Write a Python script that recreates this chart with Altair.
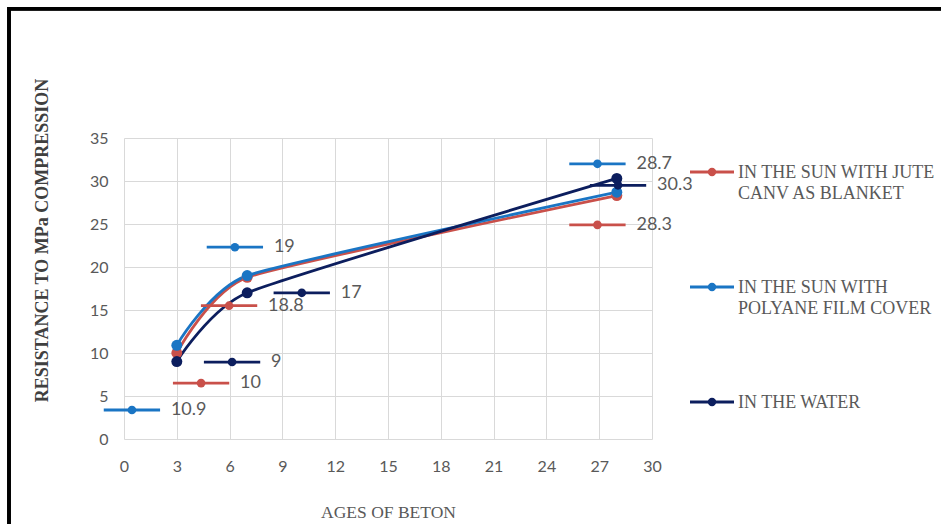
import altair as alt
import pandas as pd

# Compressive strength (MPa) of concrete by age (days) for three curing methods
AGES = [3, 7, 28]
JUTE = [10, 18.8, 28.3]
POLYANE = [10.9, 19, 28.7]
WATER = [9, 17, 30.3]

SERIES = [
    "IN THE SUN WITH JUTE CANV AS BLANKET",
    "IN THE SUN WITH POLYANE FILM COVER",
    "IN THE WATER",
]
LEGEND_TEXT = [
    "IN THE SUN WITH JUTE\nCANV AS BLANKET",
    "IN THE SUN WITH\nPOLYANE FILM COVER",
    "IN THE WATER",
]
COLORS = ["#C9504A", "#1A75C4", "#0C1E5E"]

X_TICKS = [0, 3, 6, 9, 12, 15, 18, 21, 24, 27, 30]
Y_TICKS = [0, 5, 10, 15, 20, 25, 30, 35]

rows = []
for name, vals in zip(SERIES, [JUTE, POLYANE, WATER]):
    for a, v in zip(AGES, vals):
        rows.append({"series": name, "age": a, "mpa": v})
df = pd.DataFrame(rows)

# Where each value label (with its small series key) sits, in data units
label_spots = {
    SERIES[0]: [(4.38, 6.5), (5.97, 15.5), (26.9, 24.9)],
    SERIES[1]: [(0.45, 3.37), (6.3, 22.3), (26.9, 32.0)],
    SERIES[2]: [(6.14, 8.95), (10.1, 17.0), (28.07, 29.5)],
}
lab = df.copy()
lab["lx"] = [p[0] for s in SERIES for p in label_spots[s]]
lab["ly"] = [p[1] for s in SERIES for p in label_spots[s]]

leg = pd.DataFrame({"series": SERIES, "text": LEGEND_TEXT, "idx": [0, 1, 2]})

GREY = "#595959"
color = alt.Color("series:N", scale=alt.Scale(domain=SERIES, range=COLORS), legend=None)
x = alt.X(
    "age:Q",
    scale=alt.Scale(domain=[0, 30], nice=False),
    axis=alt.Axis(
        values=X_TICKS, title="AGES OF BETON", titleY=73, titleBaseline="middle",
        titleFont="Liberation Serif", titleFontSize=17.5, titleFontWeight="normal",
        titleColor=GREY, labelPadding=19, labelFlush=False,
    ),
)
y = alt.Y(
    "mpa:Q",
    scale=alt.Scale(domain=[0, 35], nice=False),
    axis=alt.Axis(
        values=Y_TICKS, title="RESISTANCE TO MPa COMPRESSION", titleAngle=270,
        titleX=-82, titleY=102, titleAlign="center", titleBaseline="middle",
        titleFont="Liberation Serif", titleFontSize=18, titleFontWeight="bold",
        titleColor="#404040", labelPadding=16, labelFlush=False,
    ),
)

base = alt.Chart(df)
lines = base.mark_line(interpolate="cardinal", tension=0.5, strokeWidth=2.8).encode(
    x=x, y=y, color=color, detail="series:N"
)
dots = base.mark_circle(size=120, opacity=1).encode(x="age:Q", y="mpa:Q", color=color)

lab_base = alt.Chart(lab).transform_calculate(
    kx0="datum.lx - 1.6", kx1="datum.lx + 1.6"
)
lab_keys = lab_base.mark_rule(strokeWidth=2.8).encode(
    x="kx0:Q", x2="kx1:Q", y="ly:Q", color=color
)
lab_dots = lab_base.mark_circle(size=75, opacity=1).encode(x="lx:Q", y="ly:Q", color=color)
lab_text = lab_base.mark_text(
    align="left", baseline="middle", dx=39, fontSize=18, font="Lato", color=GREY
).encode(x="lx:Q", y="ly:Q", text=alt.Text("mpa:Q", format="~g"))

# Series key on the right-hand side
leg_base = alt.Chart(leg).transform_calculate(py="34 + datum.idx * 115")
leg_keys = leg_base.mark_rule(strokeWidth=2.8).encode(
    x=alt.value(566), x2=alt.value(610), y=alt.Y("py:Q", scale=None), color=color
)
leg_dots = leg_base.mark_circle(size=70, opacity=1).encode(
    x=alt.value(588), y=alt.Y("py:Q", scale=None), color=color
)
leg_text = leg_base.mark_text(
    align="left", baseline="alphabetic", dy=6, lineBreak="\n", lineHeight=21,
    font="Liberation Serif", fontSize=18, color=GREY,
).encode(x=alt.value(614), y=alt.Y("py:Q", scale=None), text="text:N")

# Outer frame
frame_top = alt.Chart(leg).mark_rule(color="black", strokeWidth=3.5).encode(
    x=alt.value(-115), x2=alt.value(830), y=alt.value(-129.3)
)
frame_left = alt.Chart(leg).mark_rule(color="black", strokeWidth=3.5).encode(
    x=alt.value(-115), y=alt.value(-131), y2=alt.value(400)
)

chart = (
    alt.layer(lines, dots, lab_keys, lab_dots, lab_text,
              leg_keys, leg_dots, leg_text, frame_top, frame_left)
    .properties(
        width=528, height=301,
        autosize=alt.AutoSizeParams(type="none"),
        padding={"left": 124, "top": 138, "right": 289, "bottom": 85},
        background="white",
    )
    .configure_view(strokeWidth=0)
    .configure_axis(
        grid=True, gridColor="#D9D9D9", gridWidth=1, domain=False, ticks=False,
        labelFont="Lato", labelFontSize=16, labelColor=GREY,
    )
)

chart.save("out.html", embed_options={"renderer": "svg", "actions": False})
